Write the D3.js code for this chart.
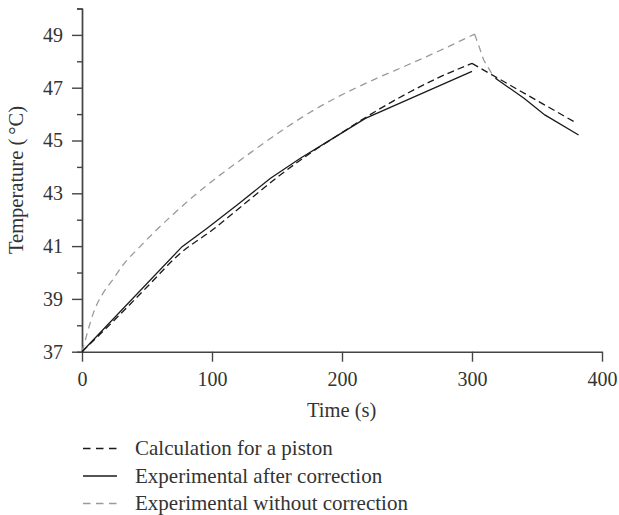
<!DOCTYPE html>
<html>
<head>
<meta charset="utf-8">
<script src="https://cdn.jsdelivr.net/npm/d3@7"></script>
<style>
    body { margin: 0; background: #fff; }
    svg { display: block; }
</style>
</head>
<body>
<svg id="chart"></svg>
<script>
// calculation for a piston (black dashed)
const calcTime = [0, 25, 50, 75, 100, 125, 150, 175, 200, 225, 250, 275, 300, 380];
const calcTemp = [37, 38.2, 39.45, 40.7, 41.6, 42.6, 43.6, 44.5, 45.3, 46.08, 46.78, 47.4, 47.92, 45.67];

// experimental after correction (black solid), null = gap
const corrTime = [0, 77, 96, 121, 145, 168, 193, 218, 300, 309, 318, 340, 356, 382];
const corrTemp = [37, 40.98, 41.67, 42.62, 43.57, 44.33, 45.08, 45.84, 47.62, null, 47.36, 46.6, 45.97, 45.21];

// experimental without correction (grey dashed)
const rawTime = [0, 2, 4, 9, 16, 24, 31, 45, 70, 96, 130, 155, 180, 206, 227, 250, 275, 302, 305, 309, 315, 320];
const rawTemp = [37, 37.35, 37.7, 38.5, 39.2, 39.75, 40.25, 41.0, 42.2, 43.3, 44.55, 45.42, 46.2, 46.88, 47.36, 47.85, 48.4, 49.03, 48.62, 48.05, 47.55, 47.29];

const xTicks = [0, 100, 200, 300, 400];
const yTicks = [37, 39, 41, 43, 45, 47, 49];
const yMinor = [38, 40, 42, 44, 46, 48, 50];

const legendLabels = ["Calculation for a piston", "Experimental after correction", "Experimental without correction"];

const W = 619, H = 515;
const font = "'Liberation Serif', 'Times New Roman', serif";
const axisColor = "#444";
const textColor = "#333";

const svg = d3.select("#chart").attr("width", W).attr("height", H);

const x = d3.scaleLinear().domain([0, 400]).range([82, 602]);
const y = d3.scaleLinear().domain([37, 50]).range([351.7, 8.5]);

const styles = [
    { stroke: "#1a1a1a", dash: "7,4", width: 1.3, smooth: true },
    { stroke: "#1a1a1a", dash: null, width: 1.3, smooth: false },
    { stroke: "#9a9a9a", dash: "7,5", width: 1.3, smooth: true }
];

// axes
const yMinorAxis = d3.axisLeft(y).tickValues(yMinor).tickSize(5).tickFormat("");
svg.append("g").attr("transform", "translate(82,0)").call(yMinorAxis);

const yAxis = d3.axisLeft(y).tickValues(yTicks).tickSize(10).tickSizeOuter(0).tickPadding(9);
svg.append("g").attr("transform", "translate(82,0)").call(yAxis);

const xAxis = d3.axisBottom(x).tickValues(xTicks).tickSize(10).tickSizeOuter(0).tickPadding(10);
svg.append("g").attr("transform", "translate(0,351.7)").call(xAxis);

svg.selectAll(".domain, .tick line")
    .attr("stroke", axisColor)
    .attr("stroke-width", 1.4);
svg.selectAll(".tick text")
    .attr("fill", textColor)
    .style("font-family", font)
    .style("font-size", "20px");

// axis titles
svg.append("text")
    .attr("x", 341.7).attr("y", 417)
    .attr("text-anchor", "middle")
    .attr("fill", textColor)
    .style("font-family", font).style("font-size", "20.5px")
    .text("Time (s)");

const yTitle = svg.append("text")
    .attr("transform", "translate(23,180) rotate(-90)")
    .attr("text-anchor", "middle")
    .attr("fill", textColor)
    .style("font-family", font).style("font-size", "20.5px");
yTitle.append("tspan").text("Temperature (\u2009");
yTitle.append("tspan").text("°C)");

// lines
const series = [
    d3.zip(calcTime, calcTemp),
    d3.zip(corrTime, corrTemp),
    d3.zip(rawTime, rawTemp)
];

function drawSeries(data, st) {
    const lineLin = d3.line()
        .defined(d => d[1] != null)
        .x(d => x(d[0]))
        .y(d => y(d[1]));
    let parts = [data];
    let curves = [d3.curveLinear];
    if (st.smooth) {
        // smooth rising part, straight after the peak
        const peak = d3.maxIndex(data, d => d[1]);
        parts = [data.slice(0, peak + 1), data.slice(peak)];
        curves = [d3.curveMonotoneX, d3.curveLinear];
    }
    const path = parts.map((p, i) => lineLin.curve(curves[i])(p)).join("");
    svg.append("path")
        .attr("d", path)
        .attr("fill", "none")
        .attr("stroke", st.stroke)
        .attr("stroke-width", st.width)
        .attr("stroke-dasharray", st.dash);
}

// grey first so the black ones sit on top
[2, 0, 1].forEach(i => drawSeries(series[i], styles[i]));

// legend
const legendY = [448.5, 476, 503.5];
legendLabels.forEach((label, i) => {
    svg.append("line")
        .attr("x1", 83).attr("x2", 117)
        .attr("y1", legendY[i]).attr("y2", legendY[i])
        .attr("stroke", styles[i].stroke)
        .attr("stroke-width", styles[i].width)
        .attr("stroke-dasharray", styles[i].dash ? "7.5,5.5" : null);
    svg.append("text")
        .attr("x", 135).attr("y", legendY[i])
        .attr("dy", "0.32em")
        .attr("fill", textColor)
        .style("font-family", font).style("font-size", "21px")
        .text(label);
});
</script>
</body>
</html>
